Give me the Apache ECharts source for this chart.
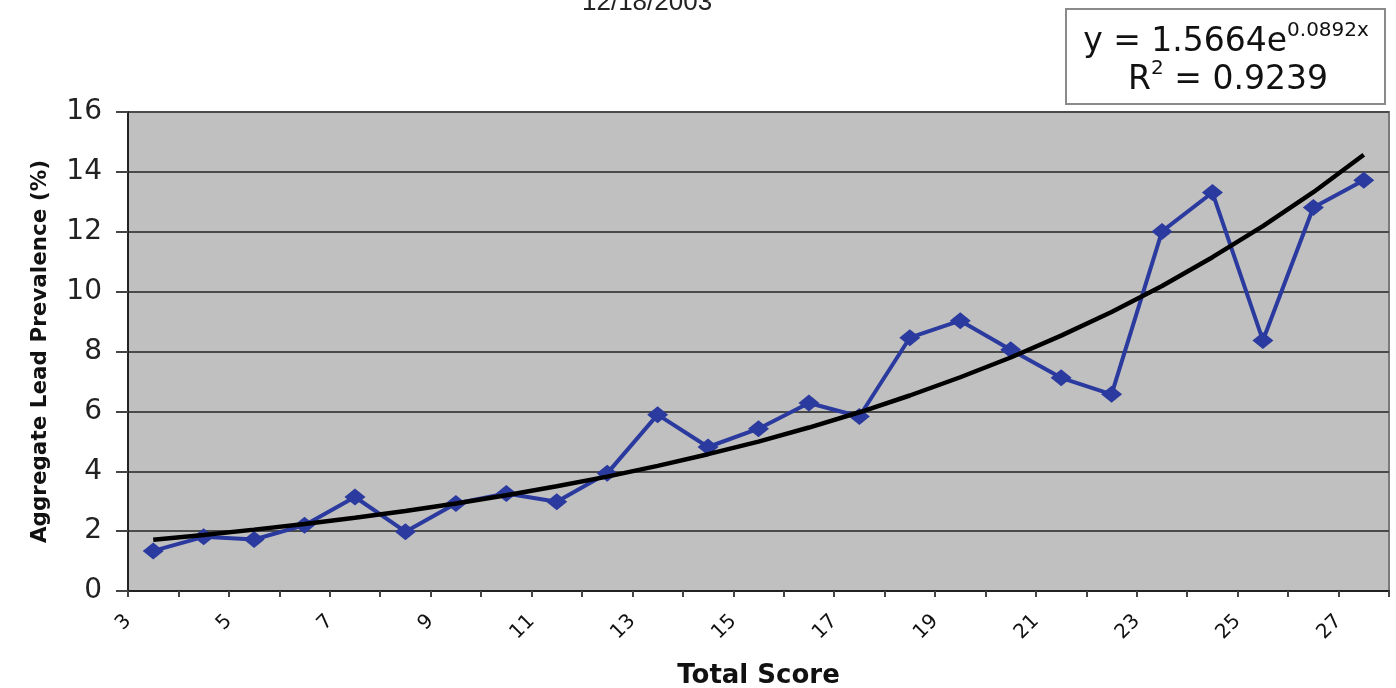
<!DOCTYPE html>
<html>
<head>
<meta charset="utf-8">
<title>Aggregate Lead Prevalence</title>
<script src="https://cdn.jsdelivr.net/npm/echarts@6/dist/echarts.min.js"></script>
<style>
	html, body { margin: 0; padding: 0; background: #fff; }
	#chart { width: 1396px; height: 688px; }
</style>
</head>
<body>
<div id="chart"></div>
<script>
// total score bins (each point sits in the middle of its bin)
var scores = [3, 4, 5, 6, 7, 8, 9, 10, 11, 12, 13, 14, 15, 16, 17, 18, 19, 20, 21, 22, 23, 24, 25, 26, 27];
// aggregate lead prevalence (%)
var prevalence = [1.34, 1.81, 1.72, 2.2, 3.14, 1.98, 2.92, 3.26, 2.98, 3.93, 5.89, 4.81, 5.42, 6.28, 5.83,
	8.46, 9.03, 8.06, 7.12, 6.57, 12.01, 13.31, 8.37, 12.81, 13.72];
// exponential trendline
var trend = [1.71, 1.87, 2.05, 2.24, 2.45, 2.67, 2.92, 3.2, 3.5, 3.82, 4.18, 4.57, 4.99, 5.46, 5.97,
	6.53, 7.14, 7.8, 8.53, 9.32, 10.19, 11.15, 12.19, 13.32, 14.57];
var xTickLabels = [3, 5, 7, 9, 11, 13, 15, 17, 19, 21, 23, 25, 27];
var yTickLabels = [0, 2, 4, 6, 8, 10, 12, 14, 16];

var chart = echarts.init(document.getElementById('chart'));

function pairs(values) {
	var out = [];
	for (var i = 0; i < scores.length; i++) {
		out.push([scores[i] + 0.5, values[i]]);
	}
	return out;
}

var supStyle = { fontFamily: 'DejaVu Sans', fontSize: 20, fill: '#111', verticalAlign: 'top', padding: [0, 0, 18, 0] };
var bigStyle = { fontFamily: 'DejaVu Sans', fontSize: 33, fill: '#111', verticalAlign: 'bottom' };

var option = {
	animation: false,
	backgroundColor: '#fff',
	grid: {
		left: 128,
		right: 7,
		top: 112,
		bottom: 97,
		outerBoundsMode: 'none',
		show: true,
		backgroundColor: '#c0c0c0',
		borderColor: '#7a7a7a',
		borderWidth: 2
	},
	xAxis: {
		type: 'value',
		min: 3,
		max: 28,
		interval: 1,
		name: 'Total Score',
		nameLocation: 'middle',
		nameGap: 72,
		nameTextStyle: { fontFamily: 'DejaVu Sans', fontWeight: 'bold', fontSize: 26, color: '#111' },
		axisLine: { lineStyle: { color: '#222', width: 2 } },
		axisTick: { show: true, length: 6, lineStyle: { color: '#444', width: 2 } },
		splitLine: { show: false },
		axisLabel: {
			rotate: 45,
			margin: 27,
			fontFamily: 'DejaVu Sans',
			fontSize: 20,
			color: '#111',
			formatter: function (v) {
				return xTickLabels.indexOf(v) >= 0 ? String(v) : '';
			}
		}
	},
	yAxis: {
		type: 'value',
		min: 0,
		max: 16,
		interval: 2,
		name: 'Aggregate Lead Prevalence (%)',
		nameLocation: 'middle',
		nameGap: 77,
		nameTextStyle: { fontFamily: 'DejaVu Sans', fontWeight: 'bold', fontSize: 21.5, color: '#111' },
		axisLine: { show: true, lineStyle: { color: '#222', width: 2 } },
		axisTick: { show: true, length: 12, lineStyle: { color: '#444', width: 2 } },
		splitLine: { show: true, lineStyle: { color: '#4a4a4a', width: 2 } },
		axisLabel: {
			margin: 26,
			fontFamily: 'DejaVu Sans',
			fontSize: 28,
			color: '#222',
			formatter: function (v) {
				return yTickLabels.indexOf(v) >= 0 ? String(v) : '';
			}
		}
	},
	series: [
		{
			name: 'Prevalence',
			type: 'line',
			data: pairs(prevalence),
			symbol: 'diamond',
			symbolSize: [21, 17],
			itemStyle: { color: '#2b3a9e' },
			lineStyle: { color: '#2b3a9e', width: 4 },
			z: 2
		},
		{
			name: 'Trend',
			type: 'line',
			data: pairs(trend),
			showSymbol: false,
			lineStyle: { color: '#000', width: 4.5 },
			z: 3
		}
	],
	graphic: [
		{
			type: 'text',
			left: 582,
			top: -10,
			style: { text: '12/18/2003', font: '26px "Liberation Sans"', fill: '#222' }
		},
		{
			type: 'rect',
			shape: { x: 1066, y: 9, width: 319, height: 95 },
			style: { fill: '#fff', stroke: '#8a8a8a', lineWidth: 2 }
		},
		{
			type: 'text',
			x: 1226,
			y: 40,
			style: {
				text: '{b|y = 1.5664e}{s|0.0892x}',
				align: 'center',
				verticalAlign: 'middle',
				rich: { b: bigStyle, s: supStyle }
			}
		},
		{
			type: 'text',
			x: 1228,
			y: 78,
			style: {
				text: '{b|R}{s|2}{b| = 0.9239}',
				align: 'center',
				verticalAlign: 'middle',
				rich: { b: bigStyle, s: supStyle }
			}
		}
	]
};

chart.setOption(option);
</script>
</body>
</html>
